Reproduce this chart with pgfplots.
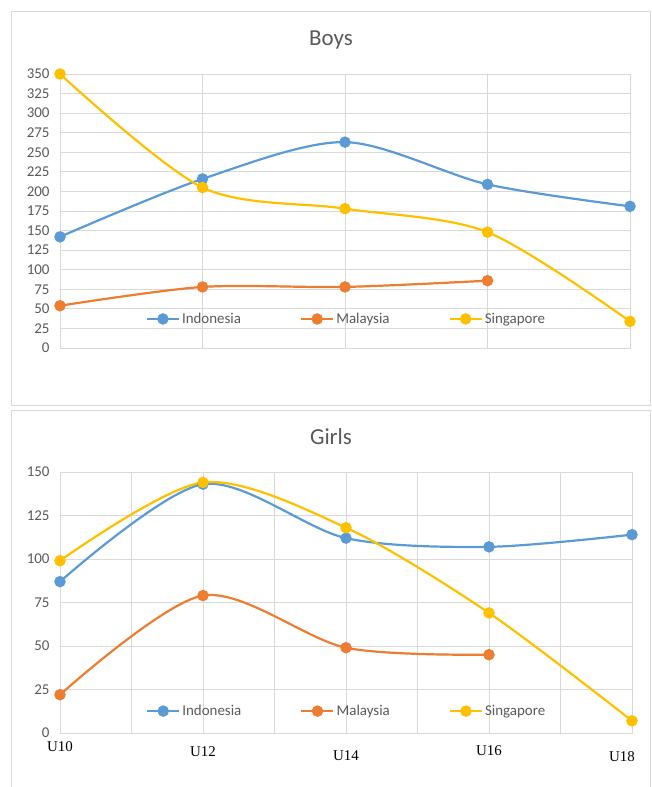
\documentclass[border=0pt]{standalone}
\usepackage{pgfplots}
\pgfplotsset{compat=1.18}
\usepackage{fontspec}
\setmainfont{Carlito}
\newfontfamily\timesfont{Liberation Serif}
\definecolor{cIndo}{HTML}{5B9BD5}
\definecolor{cMal}{HTML}{ED7D31}
\definecolor{cSin}{HTML}{FFC000}
\definecolor{txt}{HTML}{595959}
\definecolor{gridc}{HTML}{D9D9D9}

\pgfplotsset{
  excel/.style={
    scale only axis,
    clip=false,
    axis line style={gridc, line width=0.9bp},
    major tick length=0pt, minor tick length=0pt,
    grid style={gridc, line width=0.9bp},
    minor grid style={gridc, line width=0.9bp},
    tick label style={font=\fontsize{15}{18}\selectfont, text=txt},
    /pgf/number format/assume math mode=true,
    yticklabel style={xshift=-7bp},
    legend style={draw=none, fill=none, font=\fontsize{15}{18}\selectfont,
      text=txt, legend columns=-1, anchor=west,
      /tikz/every even column/.append style={column sep=57bp}},
    legend image code/.code={\draw[mark repeat=2,mark phase=2,##1]
      plot coordinates {(0bp,0bp) (16bp,0bp) (32bp,0bp)};},
    every axis plot/.append style={line width=2.2bp, smooth, mark=*, mark size=4.6bp},
  }
}

\begin{document}
\begin{tikzpicture}
\useasboundingbox (0bp,0bp) rectangle (652bp,-787bp);
% frames
\draw[gridc, line width=1bp] (11bp,-11bp) rectangle (650bp,-405bp);
\draw[gridc, line width=1bp] (11bp,-787bp) -- (11bp,-410bp) -- (650bp,-410bp) -- (650bp,-787bp);
\node[text=txt, font=\fontsize{23}{27}\selectfont] at (331bp,-40bp) {Boys};
\node[text=txt, font=\fontsize{23}{27}\selectfont] at (331bp,-437bp) {Girls};

\begin{axis}[excel,
  at={(60bp,-348bp)}, anchor=south west,
  width=570bp, height=274bp,
  xmin=0, xmax=4, ymin=0, ymax=350,
  xtick={0,1,2,3,4}, xticklabels={},
  ytick={0,25,...,350},
  grid=major,
  legend style={at={(0.145,0.106)}},
]
\addplot[color=cIndo, mark options={fill=cIndo}] coordinates {(0,142) (1,216) (2,263) (3,209) (4,181)};
\addplot[color=cMal, mark options={fill=cMal}] coordinates {(0,54) (1,78) (2,78) (3,86)};
\addplot[color=cSin, mark options={fill=cSin}] coordinates {(0,350) (1,205) (2,178) (3,148) (4,34)};
\legend{Indonesia,Malaysia,Singapore}
\end{axis}

\begin{axis}[excel,
  at={(60bp,-733bp)}, anchor=south west,
  width=572bp, height=261bp,
  xmin=10, xmax=18, ymin=0, ymax=150,
  xtick={10,12,14,16,18}, minor xtick={11,13,15,17},
  xticklabels={U10,\raisebox{-5bp}[\height]{U12},\raisebox{-9bp}[\height]{U14},\raisebox{-4bp}[\height]{U16},\raisebox{-10bp}[\height]{\makebox[0pt]{\kern-20bp U18}}},
  xticklabel style={font=\timesfont\fontsize{15}{18}\selectfont, text=black, yshift=-5bp},
  ytick={0,25,...,150},
  grid=both,
  legend style={at={(0.145,0.084)}},
]
\addplot[color=cIndo, mark options={fill=cIndo}] coordinates {(10,87) (12,143) (14,112) (16,107) (18,114)};
\addplot[color=cMal, mark options={fill=cMal}] coordinates {(10,22) (12,79) (14,49) (16,45)};
\addplot[color=cSin, mark options={fill=cSin}] coordinates {(10,99) (12,144) (14,118) (16,69) (18,7)};
\legend{Indonesia,Malaysia,Singapore}
\end{axis}
\end{tikzpicture}
\end{document}
